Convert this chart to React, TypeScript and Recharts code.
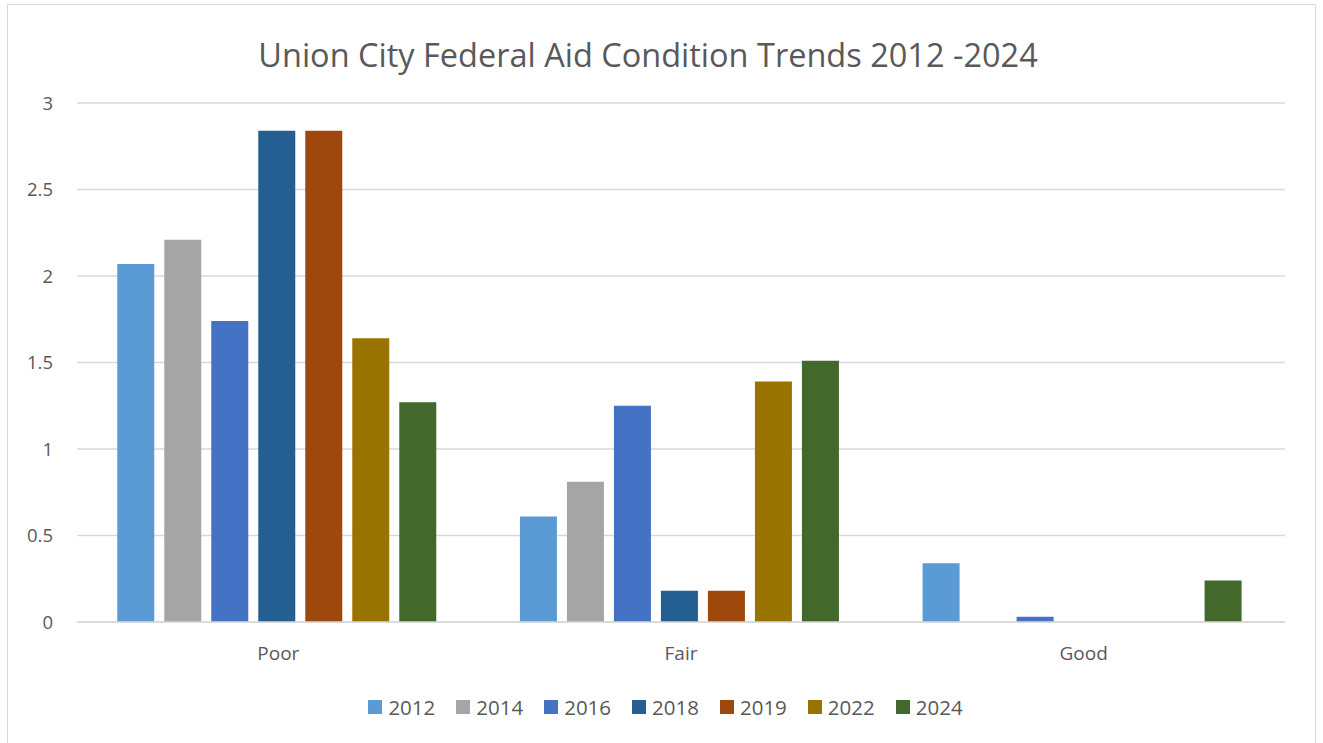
import { BarChart, Bar, XAxis, YAxis, CartesianGrid, Legend } from 'recharts';

// condition categories and per-year values
const categories = ['Poor', 'Fair', 'Good'];
const years = ['2012', '2014', '2016', '2018', '2019', '2022', '2024'];
const v2012 = [2.07, 0.61, 0.34];
const v2014 = [2.21, 0.81, 0];
const v2016 = [1.74, 1.25, 0.03];
const v2018 = [2.84, 0.18, 0];
const v2019 = [2.84, 0.18, 0];
const v2022 = [1.64, 1.39, 0];
const v2024 = [1.27, 1.51, 0.24];
const yTicks = [0, 0.5, 1, 1.5, 2, 2.5, 3];

const seriesValues = [v2012, v2014, v2016, v2018, v2019, v2022, v2024];
const colors = ['#5B9BD5', '#A5A5A5', '#4472C4', '#255E91', '#9E480E', '#997300', '#43682B'];

const data = categories.map((name, i) => {
    const row: Record<string, string | number> = { name };
    years.forEach((y, k) => {
        row[y] = seriesValues[k][i];
    });
    return row;
});

const font = '"Open Sans", sans-serif';

function LegendRow(props: any) {
    const items = props.payload || [];
    return (
        <div
            style={{
                display: 'flex',
                justifyContent: 'center',
                alignItems: 'center',
                height: 26,
                fontSize: 20.5,
                fontFamily: font,
                color: '#595959',
                paddingLeft: 38,
            }}
        >
            {items.map((it: any, i: number) => (
                <div
                    key={it.value}
                    style={{ display: 'flex', alignItems: 'center', marginRight: i < items.length - 1 ? 21 : 0 }}
                >
                    <span style={{ width: 14, height: 14, background: it.color, marginRight: 6, display: 'inline-block' }} />
                    <span>{it.value}</span>
                </div>
            ))}
        </div>
    );
}

export default function App() {
    return (
        <div
            style={{
                position: 'absolute',
                left: 7,
                top: 4,
                width: 1307,
                height: 745,
                border: '1px solid #d9d9d9',
                background: '#fff',
                fontFamily: font,
            }}
        >
            <div
                style={{
                    position: 'absolute',
                    top: 27,
                    left: 0,
                    width: 1280,
                    textAlign: 'center',
                    fontSize: 32.5,
                    color: '#595959',
                }}
            >
                Union City Federal Aid Condition Trends 2012 -2024
            </div>
            <BarChart
                width={1307}
                height={740}
                data={data}
                margin={{ top: 98, right: 30, bottom: 37, left: 0 }}
                barCategoryGap="10%"
                barGap={10}
            >
                <CartesianGrid vertical={false} stroke="#d9d9d9" strokeWidth={1.5} />
                <XAxis
                    dataKey="name"
                    height={60}
                    tickLine={false}
                    axisLine={{ stroke: '#d9d9d9', strokeWidth: 1.5 }}
                    tickSize={0}
                    tickMargin={25}
                    tick={{ fill: '#595959', fontSize: 19, fontFamily: font }}
                />
                <YAxis
                    width={69}
                    domain={[0, 3]}
                    ticks={yTicks}
                    axisLine={false}
                    tickLine={false}
                    tickSize={0}
                    tickMargin={24}
                    tick={{ fill: '#595959', fontSize: 18.5, fontFamily: font }}
                />
                <Legend verticalAlign="bottom" content={LegendRow} wrapperStyle={{ bottom: 25 }} />
                {years.map((y, k) => (
                    <Bar key={y} dataKey={y} fill={colors[k]} isAnimationActive={false} />
                ))}
            </BarChart>
        </div>
    );
}
